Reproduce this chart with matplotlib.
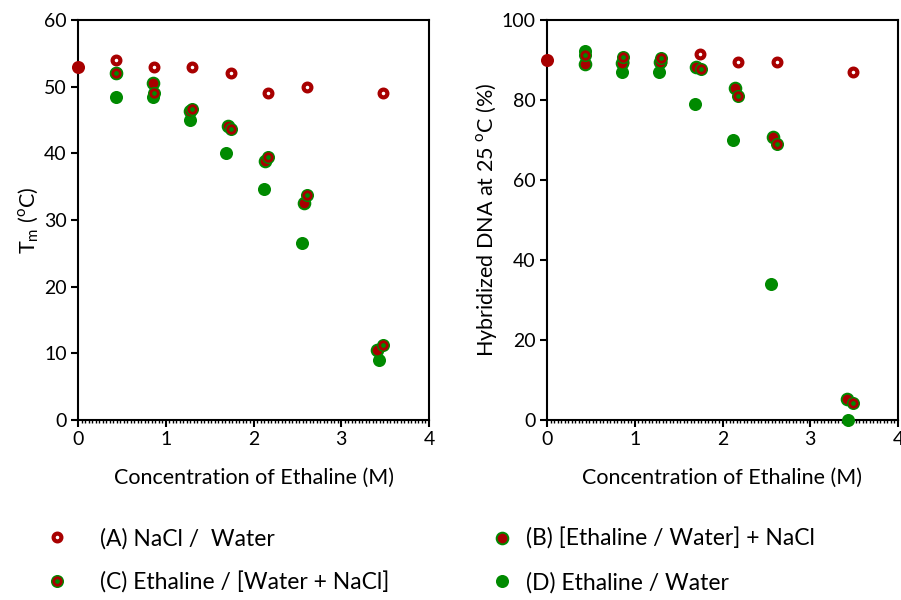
import numpy as np
import matplotlib
matplotlib.use("Agg")
from matplotlib import pyplot as plt
from matplotlib.lines import Line2D
from matplotlib.legend_handler import HandlerTuple
from matplotlib.ticker import MultipleLocator

plt.rcParams['font.family'] = ['Lato', 'DejaVu Sans']
plt.rcParams['mathtext.fontset'] = 'custom'
plt.rcParams['mathtext.rm'] = 'Lato'

RED = '#a80000'
GREEN = '#008a00'

# control point (no ethaline)
ctrl_x = [0.0]
ctrl_tm = [53.0]
ctrl_hyb = [90.0]

# (A) NaCl / Water
a_x = [0.43, 0.866, 1.30, 1.74, 2.17, 2.61, 3.48]
a_tm = [54.0, 53.0, 53.0, 52.0, 49.0, 50.0, 49.0]
a_x2 = [0.43, 0.866, 1.30, 1.74, 2.18, 2.62, 3.49]
a_hyb = [89.0, 89.5, 89.5, 91.5, 89.4, 89.4, 87.0]

# (B) [Ethaline / Water] + NaCl
b_x = [0.43, 0.85, 1.276, 1.706, 2.13, 2.57, 3.41]
b_tm = [52.0, 50.6, 46.4, 44.1, 38.9, 32.6, 10.5]
b_x2 = [0.43, 0.86, 1.29, 1.70, 2.14, 2.58, 3.42]
b_hyb = [89.0, 89.2, 89.6, 88.2, 83.1, 70.7, 5.2]

# (C) Ethaline / [Water + NaCl]
c_x = [0.43, 0.866, 1.30, 1.74, 2.17, 2.61, 3.48]
c_tm = [52.0, 49.1, 46.7, 43.6, 39.5, 33.8, 11.2]
c_x2 = [0.43, 0.866, 1.30, 1.75, 2.18, 2.62, 3.49]
c_hyb = [91.2, 90.8, 90.4, 87.8, 81.0, 69.0, 4.2]

# (D) Ethaline / Water
d_x = [0.43, 0.85, 1.276, 1.69, 2.12, 2.55, 3.43]
d_tm = [48.5, 48.5, 45.0, 40.0, 34.6, 26.5, 9.0]
d_hyb = [92.2, 86.9, 86.9, 79.0, 70.0, 34.0, 0.0]

sty_a = dict(ls='none', marker='o', ms=5.6, mew=3.0, mfc='white', mec=RED)
sty_b = dict(ls='none', marker='o', ms=8.4, mew=1.4, mfc=RED, mec=GREEN)
sty_c1 = dict(ls='none', marker='o', ms=9.4, mew=0, mfc=GREEN)
sty_c2 = dict(ls='none', marker='o', ms=5.4, mew=2.0, mfc=GREEN, mec=RED)
sty_d = dict(ls='none', marker='o', ms=9.4, mew=0, mfc=GREEN)
sty_ctrl = dict(ls='none', marker='o', ms=9.4, mew=0, mfc=RED)


def draw_panel(ax, ax_x, ay, bx, by, cx, cy, dx, dy, cy0, ymax, ystep, ylabel):
    ax.plot(ax_x, ay, clip_on=False, zorder=3, **sty_a)
    ax.plot(dx, dy, clip_on=False, zorder=4, **sty_d)
    ax.plot(bx, by, clip_on=False, zorder=5, **sty_b)
    ax.plot(cx, cy, clip_on=False, zorder=6, **sty_c1)
    ax.plot(cx, cy, clip_on=False, zorder=6, **sty_c2)
    ax.plot(ctrl_x, cy0, clip_on=False, zorder=7, **sty_ctrl)
    ax.set_xlim(0, 4)
    ax.set_ylim(0, ymax)
    ax.xaxis.set_major_locator(MultipleLocator(1))
    ax.xaxis.set_minor_locator(MultipleLocator(0.04))
    ax.yaxis.set_major_locator(MultipleLocator(ystep))
    ax.tick_params(axis='both', which='major', direction='out', length=5, width=1.5,
                   labelsize=14, pad=3)
    ax.tick_params(axis='x', which='minor', direction='out', length=2, width=1)
    for s in ax.spines.values():
        s.set_linewidth(1.5)
    ax.set_xlabel('Concentration of Ethaline (M)', fontsize=15.5, labelpad=14)
    ax.set_ylabel(ylabel, fontsize=15.5, labelpad=2)


fig = plt.figure(figsize=(9.01, 6.0), dpi=100)
ax1 = fig.add_axes([78 / 901, 0.30, 351 / 901, 400 / 600])
ax2 = fig.add_axes([547 / 901, 0.30, 351 / 901, 400 / 600])

draw_panel(ax1, a_x, a_tm, b_x, b_tm, c_x, c_tm, d_x, d_tm, ctrl_tm, 60, 10,
           r'T$_\mathregular{m}$ ($^\mathregular{o}$C)')
draw_panel(ax2, a_x2, a_hyb, b_x2, b_hyb, c_x2, c_hyb, d_x, d_hyb, ctrl_hyb, 100, 20,
           r'Hybridized DNA at 25 $^\mathregular{o}$C (%)')

h_a = Line2D([], [], **sty_a)
h_b = Line2D([], [], **sty_b)
h_c = (Line2D([], [], **sty_c1), Line2D([], [], **sty_c2))
h_d = Line2D([], [], **sty_d)
leg_kw = dict(frameon=False, loc='upper left', fontsize=16.5, borderpad=0, borderaxespad=0,
              handler_map={tuple: HandlerTuple(ndivide=1, pad=0)},
              handlelength=1.0, labelspacing=0.95)
fig.legend([h_a, h_c], ['(A) NaCl /  Water', '(C) Ethaline / [Water + NaCl]'],
           bbox_to_anchor=(45.5 / 901, 0.12), handletextpad=1.37, **leg_kw)
fig.legend([h_b, h_d], ['(B) [Ethaline / Water] + NaCl', '(D) Ethaline / Water'],
           bbox_to_anchor=(490.5 / 901, 0.12), handletextpad=0.54, **leg_kw)

fig.savefig('out.png', dpi=100)
